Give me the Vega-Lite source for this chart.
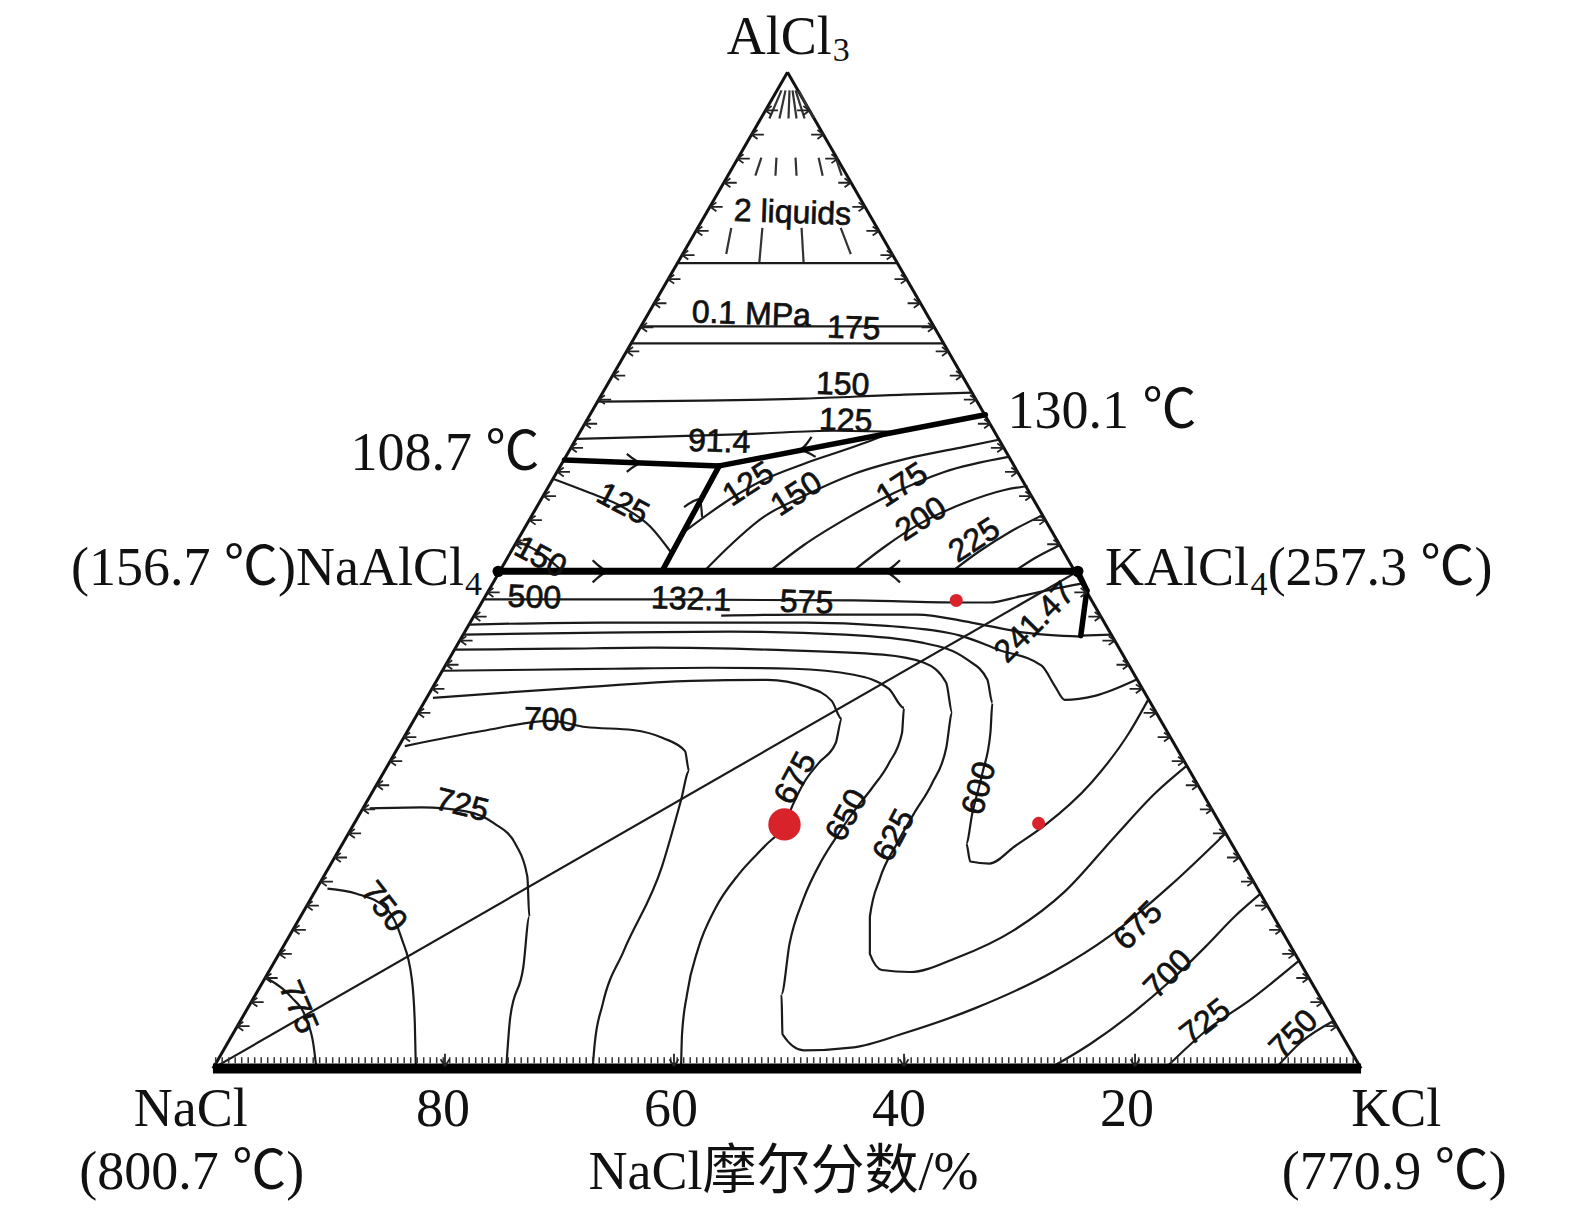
{
  "$schema": "https://vega.github.io/schema/vega-lite/v6.json",
  "width": 1575,
  "height": 1217,
  "autosize": {"type": "fit", "contains": "padding"},
  "padding": 0,
  "background": "white",
  "config": {"view": {"stroke": null}},
  "datasets": {
    "segs": [
      {"k": "edge", "x": 212, "y": 1064, "x2": 784, "y2": 72},
      {"k": "edge", "x": 784, "y": 72, "x2": 1355, "y2": 1064},
      {"k": "thin", "x": 674, "y": 262, "x2": 893, "y2": 262},
      {"k": "thin", "x": 638, "y": 325, "x2": 930, "y2": 325},
      {"k": "thin", "x": 628, "y": 342, "x2": 939, "y2": 342},
      {"k": "thin", "x": 212, "y": 1064, "x2": 1073, "y2": 569},
      {"k": "thin", "x": 1076, "y": 633, "x2": 1106, "y2": 632},
      {"k": "thick", "x": 981, "y": 413, "x2": 716, "y2": 464},
      {"k": "thick", "x": 562, "y": 458, "x2": 716, "y2": 464},
      {"k": "thick", "x": 716, "y": 464, "x2": 659, "y2": 569},
      {"k": "thick", "x": 1073, "y": 569, "x2": 1082, "y2": 588},
      {"k": "thick", "x": 1082, "y": 588, "x2": 1076, "y2": 633},
      {"k": "dash", "x": 778, "y": 90, "x2": 766, "y2": 118},
      {"k": "dash", "x": 782, "y": 90, "x2": 776, "y2": 118},
      {"k": "dash", "x": 786, "y": 90, "x2": 785, "y2": 118},
      {"k": "dash", "x": 789, "y": 90, "x2": 793, "y2": 118},
      {"k": "dash", "x": 792, "y": 90, "x2": 801, "y2": 118},
      {"k": "dash", "x": 795, "y": 90, "x2": 810, "y2": 118},
      {"k": "dash", "x": 758, "y": 157, "x2": 752, "y2": 175},
      {"k": "dash", "x": 773, "y": 157, "x2": 772, "y2": 175},
      {"k": "dash", "x": 792, "y": 157, "x2": 793, "y2": 175},
      {"k": "dash", "x": 815, "y": 157, "x2": 819, "y2": 175},
      {"k": "dash", "x": 832, "y": 157, "x2": 838, "y2": 175},
      {"k": "dash", "x": 728, "y": 227, "x2": 723, "y2": 253},
      {"k": "dash", "x": 759, "y": 227, "x2": 756, "y2": 261},
      {"k": "dash", "x": 798, "y": 227, "x2": 800, "y2": 261},
      {"k": "dash", "x": 837, "y": 227, "x2": 847, "y2": 253}
    ],
    "curves": [
      {"id": "h150", "o": 1, "x": 595, "y": 400}, {"id": "h150", "o": 2, "x": 700, "y": 399}, {"id": "h150", "o": 3, "x": 800, "y": 397}, {"id": "h150", "o": 4, "x": 900, "y": 393}, {"id": "h150", "o": 5, "x": 968, "y": 391},
      {"id": "h125", "o": 1, "x": 574, "y": 437}, {"id": "h125", "o": 2, "x": 650, "y": 435}, {"id": "h125", "o": 3, "x": 750, "y": 432}, {"id": "h125", "o": 4, "x": 830, "y": 429}, {"id": "h125", "o": 5, "x": 890, "y": 430},
      {"id": "c125", "o": 1, "x": 678, "y": 532}, {"id": "c125", "o": 2, "x": 705, "y": 512}, {"id": "c125", "o": 3, "x": 730, "y": 495}, {"id": "c125", "o": 4, "x": 760, "y": 478}, {"id": "c125", "o": 5, "x": 800, "y": 462}, {"id": "c125", "o": 6, "x": 850, "y": 445}, {"id": "c125", "o": 7, "x": 890, "y": 430},
      {"id": "c150", "o": 1, "x": 701, "y": 569}, {"id": "c150", "o": 2, "x": 725, "y": 545}, {"id": "c150", "o": 3, "x": 760, "y": 515}, {"id": "c150", "o": 4, "x": 800, "y": 494}, {"id": "c150", "o": 5, "x": 850, "y": 472}, {"id": "c150", "o": 6, "x": 910, "y": 455}, {"id": "c150", "o": 7, "x": 960, "y": 445}, {"id": "c150", "o": 8, "x": 994, "y": 438},
      {"id": "c175", "o": 1, "x": 766, "y": 569}, {"id": "c175", "o": 2, "x": 800, "y": 543}, {"id": "c175", "o": 3, "x": 845, "y": 515}, {"id": "c175", "o": 4, "x": 890, "y": 491}, {"id": "c175", "o": 5, "x": 940, "y": 470}, {"id": "c175", "o": 6, "x": 1004, "y": 455},
      {"id": "c200", "o": 1, "x": 849, "y": 569}, {"id": "c200", "o": 2, "x": 880, "y": 545}, {"id": "c200", "o": 3, "x": 915, "y": 522}, {"id": "c200", "o": 4, "x": 960, "y": 501}, {"id": "c200", "o": 5, "x": 1000, "y": 488}, {"id": "c200", "o": 6, "x": 1023, "y": 484},
      {"id": "c225", "o": 1, "x": 948, "y": 569}, {"id": "c225", "o": 2, "x": 975, "y": 549}, {"id": "c225", "o": 3, "x": 1005, "y": 530}, {"id": "c225", "o": 4, "x": 1038, "y": 513},
      {"id": "c250", "o": 1, "x": 1010, "y": 569}, {"id": "c250", "o": 2, "x": 1030, "y": 556}, {"id": "c250", "o": 3, "x": 1055, "y": 543},
      {"id": "l125", "o": 1, "x": 551, "y": 477}, {"id": "l125", "o": 2, "x": 585, "y": 490}, {"id": "l125", "o": 3, "x": 620, "y": 505}, {"id": "l125", "o": 4, "x": 648, "y": 525}, {"id": "l125", "o": 5, "x": 668, "y": 550},
      {"id": "l150", "o": 1, "x": 515, "y": 539}, {"id": "l150", "o": 2, "x": 540, "y": 552}, {"id": "l150", "o": 3, "x": 560, "y": 569},
      {"id": "A", "o": 1, "x": 481, "y": 597}, {"id": "A", "o": 2, "x": 650, "y": 597}, {"id": "A", "o": 3, "x": 850, "y": 598}, {"id": "A", "o": 4, "x": 955, "y": 600}, {"id": "A", "o": 5, "x": 985, "y": 600}, {"id": "A", "o": 6, "x": 1015, "y": 594}, {"id": "A", "o": 7, "x": 1047, "y": 587}, {"id": "A", "o": 8, "x": 1078, "y": 581},
      {"id": "B", "o": 1, "x": 718, "y": 613}, {"id": "B", "o": 2, "x": 800, "y": 612}, {"id": "B", "o": 3, "x": 913, "y": 612}, {"id": "B", "o": 4, "x": 967, "y": 620}, {"id": "B", "o": 5, "x": 1020, "y": 630}, {"id": "B", "o": 6, "x": 1076, "y": 634},
      {"id": "C", "o": 1, "x": 467, "y": 622}, {"id": "C", "o": 2, "x": 600, "y": 620}, {"id": "C", "o": 3, "x": 803, "y": 620}, {"id": "C", "o": 4, "x": 879, "y": 623}, {"id": "C", "o": 5, "x": 956, "y": 633}, {"id": "C", "o": 6, "x": 994, "y": 647}, {"id": "C", "o": 7, "x": 1037, "y": 663}, {"id": "C", "o": 8, "x": 1050, "y": 683}, {"id": "C", "o": 9, "x": 1060, "y": 697}, {"id": "C", "o": 10, "x": 1090, "y": 693}, {"id": "C", "o": 11, "x": 1131, "y": 677},
      {"id": "D", "o": 1, "x": 461, "y": 632}, {"id": "D", "o": 2, "x": 600, "y": 630}, {"id": "D", "o": 3, "x": 726, "y": 629}, {"id": "D", "o": 4, "x": 841, "y": 632}, {"id": "D", "o": 5, "x": 918, "y": 640}, {"id": "D", "o": 6, "x": 963, "y": 657}, {"id": "D", "o": 7, "x": 983, "y": 677}, {"id": "D", "o": 8, "x": 988, "y": 700}, {"id": "D", "o": 9, "x": 986, "y": 730}, {"id": "D", "o": 10, "x": 978, "y": 770}, {"id": "D", "o": 11, "x": 968, "y": 810}, {"id": "D", "o": 12, "x": 962, "y": 840}, {"id": "D", "o": 13, "x": 966, "y": 858}, {"id": "D", "o": 14, "x": 985, "y": 860}, {"id": "D", "o": 15, "x": 1010, "y": 843}, {"id": "D", "o": 16, "x": 1040, "y": 822}, {"id": "D", "o": 17, "x": 1086, "y": 780}, {"id": "D", "o": 18, "x": 1124, "y": 730}, {"id": "D", "o": 19, "x": 1143, "y": 697},
      {"id": "E", "o": 1, "x": 452, "y": 647}, {"id": "E", "o": 2, "x": 560, "y": 646}, {"id": "E", "o": 3, "x": 650, "y": 645}, {"id": "E", "o": 4, "x": 764, "y": 647}, {"id": "E", "o": 5, "x": 879, "y": 652}, {"id": "E", "o": 6, "x": 920, "y": 660}, {"id": "E", "o": 7, "x": 942, "y": 680}, {"id": "E", "o": 8, "x": 948, "y": 710}, {"id": "E", "o": 9, "x": 942, "y": 745}, {"id": "E", "o": 10, "x": 928, "y": 780}, {"id": "E", "o": 11, "x": 910, "y": 810}, {"id": "E", "o": 12, "x": 893, "y": 840}, {"id": "E", "o": 13, "x": 876, "y": 875}, {"id": "E", "o": 14, "x": 866, "y": 913}, {"id": "E", "o": 15, "x": 866, "y": 950}, {"id": "E", "o": 16, "x": 878, "y": 966}, {"id": "E", "o": 17, "x": 906, "y": 968}, {"id": "E", "o": 18, "x": 952, "y": 954}, {"id": "E", "o": 19, "x": 1010, "y": 926}, {"id": "E", "o": 20, "x": 1060, "y": 888}, {"id": "E", "o": 21, "x": 1110, "y": 833}, {"id": "E", "o": 22, "x": 1150, "y": 790}, {"id": "E", "o": 23, "x": 1181, "y": 763},
      {"id": "F", "o": 1, "x": 440, "y": 668}, {"id": "F", "o": 2, "x": 530, "y": 667}, {"id": "F", "o": 3, "x": 611, "y": 666}, {"id": "F", "o": 4, "x": 707, "y": 665}, {"id": "F", "o": 5, "x": 790, "y": 666}, {"id": "F", "o": 6, "x": 850, "y": 672}, {"id": "F", "o": 7, "x": 885, "y": 686}, {"id": "F", "o": 8, "x": 900, "y": 705}, {"id": "F", "o": 9, "x": 898, "y": 730}, {"id": "F", "o": 10, "x": 885, "y": 760}, {"id": "F", "o": 11, "x": 868, "y": 785}, {"id": "F", "o": 12, "x": 850, "y": 808}, {"id": "F", "o": 13, "x": 835, "y": 830}, {"id": "F", "o": 14, "x": 818, "y": 857}, {"id": "F", "o": 15, "x": 800, "y": 895}, {"id": "F", "o": 16, "x": 786, "y": 940}, {"id": "F", "o": 17, "x": 778, "y": 990}, {"id": "F", "o": 18, "x": 779, "y": 1030}, {"id": "F", "o": 19, "x": 800, "y": 1046}, {"id": "F", "o": 20, "x": 850, "y": 1043}, {"id": "F", "o": 21, "x": 900, "y": 1029}, {"id": "F", "o": 22, "x": 971, "y": 1004}, {"id": "F", "o": 23, "x": 1048, "y": 968}, {"id": "F", "o": 24, "x": 1105, "y": 932}, {"id": "F", "o": 25, "x": 1165, "y": 882}, {"id": "F", "o": 26, "x": 1220, "y": 830},
      {"id": "G", "o": 1, "x": 431, "y": 695}, {"id": "G", "o": 2, "x": 500, "y": 690}, {"id": "G", "o": 3, "x": 573, "y": 685}, {"id": "G", "o": 4, "x": 688, "y": 678}, {"id": "G", "o": 5, "x": 764, "y": 677}, {"id": "G", "o": 6, "x": 803, "y": 684}, {"id": "G", "o": 7, "x": 828, "y": 698}, {"id": "G", "o": 8, "x": 838, "y": 716}, {"id": "G", "o": 9, "x": 832, "y": 740}, {"id": "G", "o": 10, "x": 815, "y": 760}, {"id": "G", "o": 11, "x": 800, "y": 780}, {"id": "G", "o": 12, "x": 790, "y": 800}, {"id": "G", "o": 13, "x": 781, "y": 821}, {"id": "G", "o": 14, "x": 762, "y": 842}, {"id": "G", "o": 15, "x": 736, "y": 870}, {"id": "G", "o": 16, "x": 712, "y": 905}, {"id": "G", "o": 17, "x": 695, "y": 945}, {"id": "G", "o": 18, "x": 684, "y": 990}, {"id": "G", "o": 19, "x": 679, "y": 1030}, {"id": "G", "o": 20, "x": 678, "y": 1064},
      {"id": "I700", "o": 1, "x": 403, "y": 743}, {"id": "I700", "o": 2, "x": 480, "y": 728}, {"id": "I700", "o": 3, "x": 548, "y": 718}, {"id": "I700", "o": 4, "x": 583, "y": 724}, {"id": "I700", "o": 5, "x": 630, "y": 727}, {"id": "I700", "o": 6, "x": 660, "y": 735}, {"id": "I700", "o": 7, "x": 682, "y": 748}, {"id": "I700", "o": 8, "x": 686, "y": 768}, {"id": "I700", "o": 9, "x": 678, "y": 797}, {"id": "I700", "o": 10, "x": 659, "y": 863}, {"id": "I700", "o": 11, "x": 621, "y": 947}, {"id": "I700", "o": 12, "x": 600, "y": 1000}, {"id": "I700", "o": 13, "x": 592, "y": 1040}, {"id": "I700", "o": 14, "x": 590, "y": 1064},
      {"id": "I725", "o": 1, "x": 368, "y": 805}, {"id": "I725", "o": 2, "x": 420, "y": 804}, {"id": "I725", "o": 3, "x": 464, "y": 808}, {"id": "I725", "o": 4, "x": 492, "y": 820}, {"id": "I725", "o": 5, "x": 514, "y": 842}, {"id": "I725", "o": 6, "x": 525, "y": 873}, {"id": "I725", "o": 7, "x": 527, "y": 913}, {"id": "I725", "o": 8, "x": 521, "y": 963}, {"id": "I725", "o": 9, "x": 508, "y": 1013}, {"id": "I725", "o": 10, "x": 504, "y": 1064},
      {"id": "I750", "o": 1, "x": 326, "y": 885}, {"id": "I750", "o": 2, "x": 355, "y": 890}, {"id": "I750", "o": 3, "x": 385, "y": 905}, {"id": "I750", "o": 4, "x": 400, "y": 935}, {"id": "I750", "o": 5, "x": 410, "y": 975}, {"id": "I750", "o": 6, "x": 413, "y": 1020}, {"id": "I750", "o": 7, "x": 414, "y": 1064},
      {"id": "I775", "o": 1, "x": 267, "y": 975}, {"id": "I775", "o": 2, "x": 290, "y": 993}, {"id": "I775", "o": 3, "x": 305, "y": 1015}, {"id": "I775", "o": 4, "x": 312, "y": 1040}, {"id": "I775", "o": 5, "x": 315, "y": 1064},
      {"id": "R700", "o": 1, "x": 1045, "y": 1064}, {"id": "R700", "o": 2, "x": 1085, "y": 1040}, {"id": "R700", "o": 3, "x": 1130, "y": 1007}, {"id": "R700", "o": 4, "x": 1165, "y": 977}, {"id": "R700", "o": 5, "x": 1200, "y": 943}, {"id": "R700", "o": 6, "x": 1230, "y": 912}, {"id": "R700", "o": 7, "x": 1255, "y": 890},
      {"id": "R725", "o": 1, "x": 1160, "y": 1064}, {"id": "R725", "o": 2, "x": 1200, "y": 1027}, {"id": "R725", "o": 3, "x": 1247, "y": 994}, {"id": "R725", "o": 4, "x": 1293, "y": 957},
      {"id": "R750", "o": 1, "x": 1270, "y": 1064}, {"id": "R750", "o": 2, "x": 1295, "y": 1038}, {"id": "R750", "o": 3, "x": 1327, "y": 1017},
      {"id": "arr1", "o": 1, "x": 624, "y": 452}, {"id": "arr1", "o": 2, "x": 640, "y": 461}, {"id": "arr1", "o": 3, "x": 624, "y": 470},
      {"id": "arr2", "o": 1, "x": 590, "y": 558}, {"id": "arr2", "o": 2, "x": 607, "y": 569}, {"id": "arr2", "o": 3, "x": 590, "y": 580},
      {"id": "arr3", "o": 1, "x": 896, "y": 558}, {"id": "arr3", "o": 2, "x": 879, "y": 569}, {"id": "arr3", "o": 3, "x": 896, "y": 580},
      {"id": "arr4", "o": 1, "x": 812, "y": 455}, {"id": "arr4", "o": 2, "x": 795, "y": 448}, {"id": "arr4", "o": 3, "x": 808, "y": 435},
      {"id": "arr5", "o": 1, "x": 699, "y": 515}, {"id": "arr5", "o": 2, "x": 697, "y": 497}, {"id": "arr5", "o": 3, "x": 681, "y": 505}
    ],
    "ticksL": [
      {"x": 762, "y": 110}, {"x": 748, "y": 134}, {"x": 734, "y": 158}, {"x": 721, "y": 182}, {"x": 707, "y": 206}, {"x": 693, "y": 230}, {"x": 679, "y": 254}, {"x": 665, "y": 278}, {"x": 651, "y": 302}, {"x": 638, "y": 326}, {"x": 624, "y": 350}, {"x": 610, "y": 374}, {"x": 596, "y": 398}, {"x": 582, "y": 422}, {"x": 568, "y": 446}, {"x": 555, "y": 470}, {"x": 541, "y": 494}, {"x": 527, "y": 518}, {"x": 513, "y": 542}, {"x": 485, "y": 590}, {"x": 472, "y": 614}, {"x": 458, "y": 638}, {"x": 444, "y": 662}, {"x": 430, "y": 686}, {"x": 416, "y": 710}, {"x": 402, "y": 734}, {"x": 388, "y": 758}, {"x": 375, "y": 782}, {"x": 361, "y": 806}, {"x": 347, "y": 830}, {"x": 333, "y": 854}, {"x": 319, "y": 878}, {"x": 305, "y": 902}, {"x": 292, "y": 926}, {"x": 278, "y": 950}, {"x": 264, "y": 974}, {"x": 250, "y": 998}, {"x": 236, "y": 1022}
    ],
    "ticksR": [
      {"x": 806, "y": 110}, {"x": 820, "y": 134}, {"x": 834, "y": 158}, {"x": 847, "y": 182}, {"x": 861, "y": 206}, {"x": 875, "y": 230}, {"x": 889, "y": 254}, {"x": 903, "y": 278}, {"x": 916, "y": 302}, {"x": 930, "y": 326}, {"x": 944, "y": 350}, {"x": 958, "y": 374}, {"x": 972, "y": 398}, {"x": 986, "y": 422}, {"x": 999, "y": 446}, {"x": 1013, "y": 470}, {"x": 1027, "y": 494}, {"x": 1041, "y": 518}, {"x": 1055, "y": 542}, {"x": 1082, "y": 590}, {"x": 1096, "y": 614}, {"x": 1110, "y": 638}, {"x": 1124, "y": 662}, {"x": 1137, "y": 686}, {"x": 1151, "y": 710}, {"x": 1165, "y": 734}, {"x": 1179, "y": 758}, {"x": 1193, "y": 782}, {"x": 1207, "y": 806}, {"x": 1220, "y": 830}, {"x": 1234, "y": 854}, {"x": 1248, "y": 878}, {"x": 1262, "y": 902}, {"x": 1276, "y": 926}, {"x": 1289, "y": 950}, {"x": 1303, "y": 974}, {"x": 1317, "y": 998}, {"x": 1331, "y": 1022}
    ],
    "ticksB": [
      {"x": 443, "y": 1062}, {"x": 671, "y": 1062}, {"x": 900, "y": 1062}, {"x": 1130, "y": 1062}
    ],
    "dots": [
      {"s": "small", "x": 952, "y": 598},
      {"s": "small", "x": 1034, "y": 820},
      {"s": "big", "x": 781, "y": 821}
    ],
    "serif": [
      {"t": "AlCl", "x": 828, "y": 38, "a": "right"},
      {"t": "130.1 ℃", "x": 1003, "y": 410, "a": "left"},
      {"t": "108.7 ℃", "x": 537, "y": 452, "a": "right"},
      {"t": "(156.7 ℃)NaAlCl", "x": 462, "y": 567, "a": "right"},
      {"t": "KAlCl", "x": 1100, "y": 567, "a": "left"},
      {"t": "(257.3 ℃)", "x": 1262, "y": 567, "a": "left"},
      {"t": "NaCl", "x": 190, "y": 1105, "a": "center"},
      {"t": "80", "x": 441, "y": 1105, "a": "center"},
      {"t": "60", "x": 668, "y": 1105, "a": "center"},
      {"t": "40", "x": 895, "y": 1105, "a": "center"},
      {"t": "20", "x": 1122, "y": 1105, "a": "center"},
      {"t": "KCl", "x": 1390, "y": 1105, "a": "center"},
      {"t": "(800.7 ℃)", "x": 191, "y": 1168, "a": "center"},
      {"t": "NaCl摩尔分数/%", "x": 780, "y": 1168, "a": "center"},
      {"t": "(770.9 ℃)", "x": 1388, "y": 1168, "a": "center"}
    ],
    "subs": [
      {"t": "3", "x": 829, "y": 51},
      {"t": "4", "x": 463, "y": 583},
      {"t": "4", "x": 1245, "y": 583}
    ],
    "labels": [
      {"t": "2 liquids", "x": 789, "y": 212, "g": 0},
      {"t": "0.1 MPa", "x": 748, "y": 313, "g": 0},
      {"t": "175", "x": 850, "y": 327, "g": 0},
      {"t": "150", "x": 839, "y": 383, "g": 0},
      {"t": "125", "x": 842, "y": 419, "g": 0},
      {"t": "91.4", "x": 716, "y": 440, "g": 0},
      {"t": "500", "x": 532, "y": 595, "g": 0},
      {"t": "132.1", "x": 688, "y": 597, "g": 0},
      {"t": "575", "x": 803, "y": 600, "g": 0},
      {"t": "700", "x": 548, "y": 717, "g": 0},
      {"t": "125", "x": 745, "y": 482, "g": 1},
      {"t": "150", "x": 793, "y": 492, "g": 1},
      {"t": "175", "x": 898, "y": 483, "g": 1},
      {"t": "200", "x": 917, "y": 517, "g": 1},
      {"t": "225", "x": 970, "y": 538, "g": 1},
      {"t": "125", "x": 620, "y": 502, "g": 2},
      {"t": "150", "x": 538, "y": 555, "g": 2},
      {"t": "241.47", "x": 1030, "y": 620, "g": 3},
      {"t": "725", "x": 460, "y": 802, "g": 4},
      {"t": "750", "x": 382, "y": 903, "g": 5},
      {"t": "775", "x": 297, "y": 1003, "g": 6},
      {"t": "675", "x": 792, "y": 775, "g": 7},
      {"t": "650", "x": 843, "y": 812, "g": 7},
      {"t": "625", "x": 890, "y": 832, "g": 7},
      {"t": "600", "x": 975, "y": 785, "g": 8},
      {"t": "675", "x": 1133, "y": 922, "g": 3},
      {"t": "700", "x": 1163, "y": 970, "g": 3},
      {"t": "725", "x": 1200, "y": 1018, "g": 9},
      {"t": "750", "x": 1288, "y": 1030, "g": 3}
    ]
  },
  "encoding": {
    "x": {"type": "quantitative", "scale": {"domain": [0, 1568], "nice": false, "zero": false}, "axis": null},
    "y": {"type": "quantitative", "scale": {"domain": [0, 1212], "reverse": true, "nice": false, "zero": false}, "axis": null}
  },
  "layer": [
    {
      "data": {"name": "segs"},
      "transform": [{"filter": "datum.k === 'edge'"}],
      "mark": {"type": "rule", "stroke": "#111", "strokeWidth": 3},
      "encoding": {"x": {"field": "x", "type": "quantitative"}, "y": {"field": "y", "type": "quantitative"}, "x2": {"field": "x2"}, "y2": {"field": "y2"}}
    },
    {
      "data": {"name": "segs"},
      "transform": [{"filter": "datum.k === 'thin'"}],
      "mark": {"type": "rule", "stroke": "#1a1a1a", "strokeWidth": 2.2},
      "encoding": {"x": {"field": "x", "type": "quantitative"}, "y": {"field": "y", "type": "quantitative"}, "x2": {"field": "x2"}, "y2": {"field": "y2"}}
    },
    {
      "data": {"name": "segs"},
      "transform": [{"filter": "datum.k === 'dash'"}],
      "mark": {"type": "rule", "stroke": "#333", "strokeWidth": 2.2},
      "encoding": {"x": {"field": "x", "type": "quantitative"}, "y": {"field": "y", "type": "quantitative"}, "x2": {"field": "x2"}, "y2": {"field": "y2"}}
    },
    {
      "data": {"name": "curves"},
      "mark": {"type": "line", "stroke": "#1a1a1a", "strokeWidth": 2.2, "interpolate": "monotone"},
      "encoding": {"x": {"field": "x", "type": "quantitative"}, "y": {"field": "y", "type": "quantitative"}, "detail": {"field": "id"}, "order": {"field": "o"}}
    },
    {
      "data": {"name": "segs"},
      "transform": [{"filter": "datum.k === 'thick'"}],
      "mark": {"type": "rule", "stroke": "#000", "strokeWidth": 5.5, "strokeCap": "round"},
      "encoding": {"x": {"field": "x", "type": "quantitative"}, "y": {"field": "y", "type": "quantitative"}, "x2": {"field": "x2"}, "y2": {"field": "y2"}}
    },
    {
      "data": {"values": [{"x": 496, "y": 569, "x2": 1073, "y2": 569}]},
      "mark": {"type": "rule", "stroke": "#000", "strokeWidth": 7},
      "encoding": {"x": {"field": "x", "type": "quantitative"}, "y": {"field": "y", "type": "quantitative"}, "x2": {"field": "x2"}, "y2": {"field": "y2"}}
    },
    {
      "data": {"values": [{"x": 212, "y": 1064, "x2": 1355, "y2": 1064}]},
      "mark": {"type": "rule", "stroke": "#000", "strokeWidth": 10},
      "encoding": {"x": {"field": "x", "type": "quantitative"}, "y": {"field": "y", "type": "quantitative"}, "x2": {"field": "x2"}, "y2": {"field": "y2"}}
    },
    {
      "data": {"values": [{"x": 214, "y": 1056, "x2": 1353, "y2": 1056}]},
      "mark": {"type": "rule", "stroke": "#333", "strokeWidth": 6, "strokeDash": [1.5, 5]},
      "encoding": {"x": {"field": "x", "type": "quantitative"}, "y": {"field": "y", "type": "quantitative"}, "x2": {"field": "x2"}, "y2": {"field": "y2"}}
    },
    {
      "data": {"name": "ticksL"},
      "mark": {"type": "point", "shape": "M0,0L0.7,-0.5M0,0L0.7,0.5M0,0L1.4,0", "filled": false, "stroke": "#222", "strokeWidth": 1.8, "opacity": 1, "size": 320},
      "encoding": {"x": {"field": "x", "type": "quantitative"}, "y": {"field": "y", "type": "quantitative"}}
    },
    {
      "data": {"name": "ticksR"},
      "mark": {"type": "point", "shape": "M0,0L-0.7,-0.5M0,0L-0.7,0.5M0,0L-1.4,0", "filled": false, "stroke": "#222", "strokeWidth": 1.8, "opacity": 1, "size": 320},
      "encoding": {"x": {"field": "x", "type": "quantitative"}, "y": {"field": "y", "type": "quantitative"}}
    },
    {
      "data": {"name": "ticksB"},
      "mark": {"type": "point", "shape": "M0,0L-0.5,-0.8M0,0L0.5,-0.8M0,0L0,-1.4", "filled": false, "stroke": "#222", "strokeWidth": 1.8, "opacity": 1, "size": 320},
      "encoding": {"x": {"field": "x", "type": "quantitative"}, "y": {"field": "y", "type": "quantitative"}}
    },
    {
      "data": {"values": [{"x": 496, "y": 569}, {"x": 1073, "y": 569}]},
      "mark": {"type": "point", "filled": true, "color": "#000", "size": 130, "opacity": 1},
      "encoding": {"x": {"field": "x", "type": "quantitative"}, "y": {"field": "y", "type": "quantitative"}}
    },
    {
      "data": {"name": "dots"},
      "mark": {"type": "point", "filled": true, "color": "#d8232a", "opacity": 1},
      "encoding": {"x": {"field": "x", "type": "quantitative"}, "y": {"field": "y", "type": "quantitative"}, "size": {"field": "s", "type": "nominal", "scale": {"domain": ["small", "big"], "range": [170, 1050]}, "legend": null}}
    },
    {
      "data": {"name": "serif"},
      "transform": [{"filter": "datum.a === 'left'"}],
      "mark": {"type": "text", "font": "Liberation Serif, Noto Sans CJK SC", "fontSize": 54, "align": "left", "baseline": "middle", "color": "#111"},
      "encoding": {"x": {"field": "x", "type": "quantitative"}, "y": {"field": "y", "type": "quantitative"}, "text": {"field": "t"}}
    },
    {
      "data": {"name": "serif"},
      "transform": [{"filter": "datum.a === 'right'"}],
      "mark": {"type": "text", "font": "Liberation Serif, Noto Sans CJK SC", "fontSize": 54, "align": "right", "baseline": "middle", "color": "#111"},
      "encoding": {"x": {"field": "x", "type": "quantitative"}, "y": {"field": "y", "type": "quantitative"}, "text": {"field": "t"}}
    },
    {
      "data": {"name": "serif"},
      "transform": [{"filter": "datum.a === 'center'"}],
      "mark": {"type": "text", "font": "Liberation Serif, Noto Sans CJK SC", "fontSize": 54, "align": "center", "baseline": "middle", "color": "#111"},
      "encoding": {"x": {"field": "x", "type": "quantitative"}, "y": {"field": "y", "type": "quantitative"}, "text": {"field": "t"}}
    },
    {
      "data": {"name": "subs"},
      "mark": {"type": "text", "font": "Liberation Serif", "fontSize": 34, "align": "left", "baseline": "middle", "color": "#111"},
      "encoding": {"x": {"field": "x", "type": "quantitative"}, "y": {"field": "y", "type": "quantitative"}, "text": {"field": "t"}}
    },
    {"data": {"name": "labels"}, "transform": [{"filter": "datum.g === 0"}], "mark": {"type": "text", "font": "Liberation Sans", "fontSize": 32, "align": "center", "baseline": "middle", "color": "#111", "stroke": "#111", "strokeWidth": 0.7, "angle": 2}, "encoding": {"x": {"field": "x", "type": "quantitative"}, "y": {"field": "y", "type": "quantitative"}, "text": {"field": "t"}}},
    {"data": {"name": "labels"}, "transform": [{"filter": "datum.g === 1"}], "mark": {"type": "text", "font": "Liberation Sans", "fontSize": 32, "align": "center", "baseline": "middle", "color": "#111", "stroke": "#111", "strokeWidth": 0.7, "angle": -33}, "encoding": {"x": {"field": "x", "type": "quantitative"}, "y": {"field": "y", "type": "quantitative"}, "text": {"field": "t"}}},
    {"data": {"name": "labels"}, "transform": [{"filter": "datum.g === 2"}], "mark": {"type": "text", "font": "Liberation Sans", "fontSize": 32, "align": "center", "baseline": "middle", "color": "#111", "stroke": "#111", "strokeWidth": 0.7, "angle": 28}, "encoding": {"x": {"field": "x", "type": "quantitative"}, "y": {"field": "y", "type": "quantitative"}, "text": {"field": "t"}}},
    {"data": {"name": "labels"}, "transform": [{"filter": "datum.g === 3"}], "mark": {"type": "text", "font": "Liberation Sans", "fontSize": 32, "align": "center", "baseline": "middle", "color": "#111", "stroke": "#111", "strokeWidth": 0.7, "angle": -45}, "encoding": {"x": {"field": "x", "type": "quantitative"}, "y": {"field": "y", "type": "quantitative"}, "text": {"field": "t"}}},
    {"data": {"name": "labels"}, "transform": [{"filter": "datum.g === 4"}], "mark": {"type": "text", "font": "Liberation Sans", "fontSize": 32, "align": "center", "baseline": "middle", "color": "#111", "stroke": "#111", "strokeWidth": 0.7, "angle": 14}, "encoding": {"x": {"field": "x", "type": "quantitative"}, "y": {"field": "y", "type": "quantitative"}, "text": {"field": "t"}}},
    {"data": {"name": "labels"}, "transform": [{"filter": "datum.g === 5"}], "mark": {"type": "text", "font": "Liberation Sans", "fontSize": 32, "align": "center", "baseline": "middle", "color": "#111", "stroke": "#111", "strokeWidth": 0.7, "angle": 52}, "encoding": {"x": {"field": "x", "type": "quantitative"}, "y": {"field": "y", "type": "quantitative"}, "text": {"field": "t"}}},
    {"data": {"name": "labels"}, "transform": [{"filter": "datum.g === 6"}], "mark": {"type": "text", "font": "Liberation Sans", "fontSize": 32, "align": "center", "baseline": "middle", "color": "#111", "stroke": "#111", "strokeWidth": 0.7, "angle": 67}, "encoding": {"x": {"field": "x", "type": "quantitative"}, "y": {"field": "y", "type": "quantitative"}, "text": {"field": "t"}}},
    {"data": {"name": "labels"}, "transform": [{"filter": "datum.g === 7"}], "mark": {"type": "text", "font": "Liberation Sans", "fontSize": 32, "align": "center", "baseline": "middle", "color": "#111", "stroke": "#111", "strokeWidth": 0.7, "angle": -62}, "encoding": {"x": {"field": "x", "type": "quantitative"}, "y": {"field": "y", "type": "quantitative"}, "text": {"field": "t"}}},
    {"data": {"name": "labels"}, "transform": [{"filter": "datum.g === 8"}], "mark": {"type": "text", "font": "Liberation Sans", "fontSize": 32, "align": "center", "baseline": "middle", "color": "#111", "stroke": "#111", "strokeWidth": 0.7, "angle": -75}, "encoding": {"x": {"field": "x", "type": "quantitative"}, "y": {"field": "y", "type": "quantitative"}, "text": {"field": "t"}}},
    {"data": {"name": "labels"}, "transform": [{"filter": "datum.g === 9"}], "mark": {"type": "text", "font": "Liberation Sans", "fontSize": 32, "align": "center", "baseline": "middle", "color": "#111", "stroke": "#111", "strokeWidth": 0.7, "angle": -38}, "encoding": {"x": {"field": "x", "type": "quantitative"}, "y": {"field": "y", "type": "quantitative"}, "text": {"field": "t"}}}
  ]
}
